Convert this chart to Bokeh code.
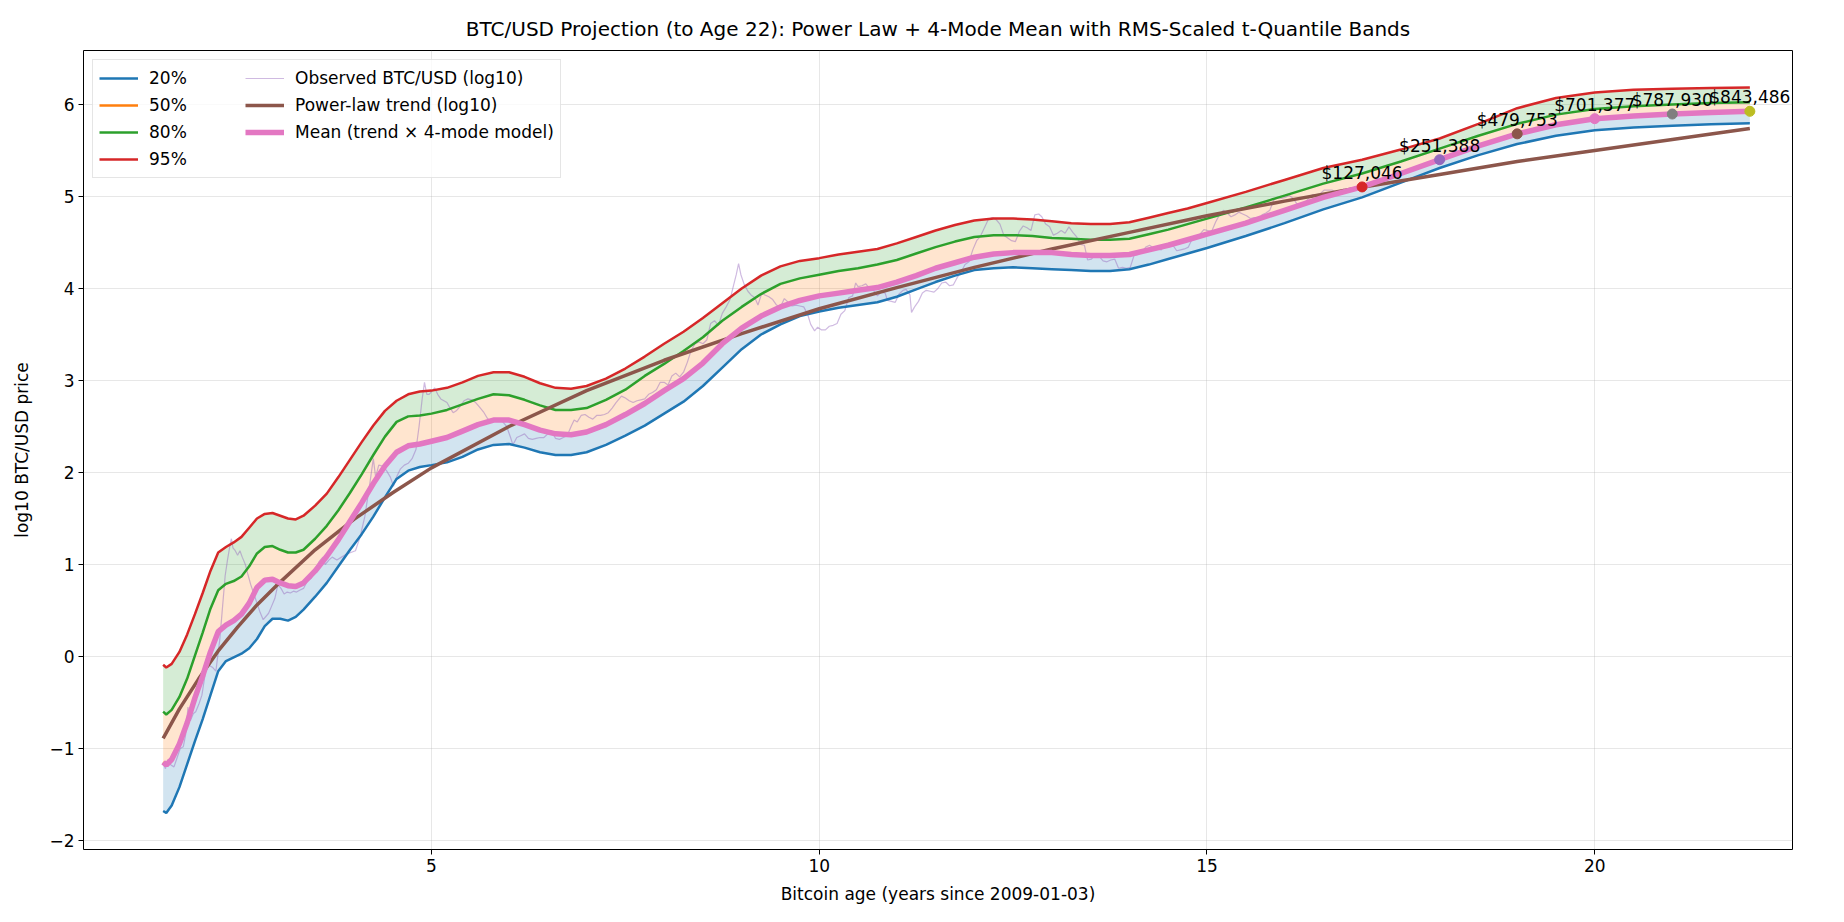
from bokeh.plotting import figure
from bokeh.models import Legend, LegendItem, FixedTicker, Range1d, ColumnDataSource
from bokeh.core.properties import value
from bokeh.embed import file_html
from bokeh.resources import INLINE

# ---------------- data ----------------
ages = [1.54, 1.58, 1.65, 1.75, 1.85, 1.95, 2.05, 2.15, 2.25, 2.35, 2.45, 2.55, 2.65, 2.75, 2.85, 2.95,
        3.05, 3.15, 3.25, 3.35, 3.5, 3.65, 3.8, 3.95, 4.1, 4.25, 4.4, 4.55, 4.7, 4.85, 5.0, 5.2, 5.4,
        5.6, 5.8, 6.0, 6.2, 6.4, 6.6, 6.8, 7.0, 7.25, 7.5, 7.75, 8.0, 8.25, 8.5, 8.75, 9.0, 9.25, 9.5,
        9.75, 10.0, 10.25, 10.5, 10.75, 11.0, 11.25, 11.5, 11.75, 12.0, 12.25, 12.5, 12.75, 13.0, 13.25,
        13.5, 13.75, 14.0, 14.25, 14.5, 14.75, 15.0, 15.5, 16.0, 16.5, 17.0, 17.5, 18.0, 18.5, 19.0,
        19.5, 20.0, 20.5, 21.0, 21.5, 22.0]

mean_log = [-1.15, -1.18, -1.12, -0.95, -0.72, -0.45, -0.21, 0.05, 0.27, 0.34, 0.39, 0.46, 0.58, 0.75, 0.83, 0.84,
            0.80, 0.77, 0.76, 0.80, 0.93, 1.09, 1.27, 1.47, 1.67, 1.88, 2.07, 2.22, 2.29, 2.31, 2.34, 2.38, 2.45,
            2.52, 2.57, 2.57, 2.52, 2.46, 2.42, 2.41, 2.44, 2.52, 2.63, 2.75, 2.89, 3.02, 3.19, 3.40, 3.57, 3.70, 3.80,
            3.87, 3.92, 3.95, 3.98, 4.01, 4.07, 4.14, 4.22, 4.28, 4.34, 4.375, 4.39, 4.39, 4.39, 4.37,
            4.36, 4.36, 4.37, 4.42, 4.47, 4.53, 4.59, 4.71, 4.85, 4.99, 5.105, 5.25, 5.40, 5.55, 5.68,
            5.78, 5.846, 5.875, 5.8965, 5.913, 5.926]

q20 = [-1.68, -1.70, -1.62, -1.42, -1.17, -0.92, -0.68, -0.42, -0.16, -0.05, -0.01, 0.03, 0.09, 0.19, 0.33, 0.41,
       0.41, 0.39, 0.43, 0.51, 0.65, 0.80, 0.98, 1.16, 1.33, 1.52, 1.73, 1.93, 2.02, 2.06, 2.08, 2.11, 2.17,
       2.25, 2.30, 2.31, 2.27, 2.22, 2.19, 2.19, 2.22, 2.30, 2.40, 2.51, 2.64, 2.77, 2.94, 3.14, 3.34, 3.50, 3.61,
       3.70, 3.75, 3.79, 3.82, 3.85, 3.91, 3.99, 4.07, 4.14, 4.20, 4.22, 4.23, 4.22, 4.21, 4.20,
       4.19, 4.19, 4.21, 4.26, 4.32, 4.38, 4.44, 4.57, 4.71, 4.86, 4.99, 5.15, 5.31, 5.45, 5.57,
       5.66, 5.72, 5.75, 5.77, 5.785, 5.795]

q50 = list(mean_log)

q80 = [-0.60, -0.63, -0.58, -0.44, -0.24, 0.01, 0.26, 0.52, 0.72, 0.79, 0.82, 0.87, 0.98, 1.12, 1.19, 1.20,
       1.16, 1.13, 1.13, 1.16, 1.28, 1.42, 1.59, 1.78, 1.98, 2.19, 2.39, 2.55, 2.61, 2.62, 2.64, 2.68, 2.74,
       2.80, 2.85, 2.84, 2.79, 2.73, 2.68, 2.68, 2.70, 2.79, 2.90, 3.05, 3.18, 3.32, 3.47, 3.65, 3.80, 3.94, 4.05,
       4.11, 4.15, 4.19, 4.22, 4.26, 4.31, 4.38, 4.45, 4.51, 4.56, 4.58, 4.58, 4.57, 4.55, 4.54,
       4.53, 4.53, 4.54, 4.59, 4.64, 4.70, 4.76, 4.88, 5.01, 5.14, 5.25, 5.38, 5.52, 5.66, 5.79,
       5.89, 5.95, 5.98, 6.00, 6.015, 6.025]

q95 = [-0.09, -0.12, -0.08, 0.05, 0.24, 0.46, 0.69, 0.93, 1.13, 1.19, 1.24, 1.30, 1.40, 1.50, 1.55, 1.56,
       1.53, 1.50, 1.49, 1.53, 1.64, 1.77, 1.95, 2.14, 2.33, 2.51, 2.67, 2.78, 2.85, 2.88, 2.89, 2.92, 2.98,
       3.05, 3.09, 3.09, 3.04, 2.97, 2.92, 2.91, 2.94, 3.02, 3.13, 3.26, 3.40, 3.53, 3.68, 3.84, 4.00, 4.14, 4.24,
       4.30, 4.33, 4.37, 4.40, 4.43, 4.49, 4.56, 4.63, 4.69, 4.74, 4.76, 4.76, 4.75, 4.73, 4.71,
       4.70, 4.70, 4.72, 4.77, 4.82, 4.87, 4.93, 5.05, 5.18, 5.31, 5.40, 5.51, 5.63, 5.79, 5.96,
       6.07, 6.13, 6.16, 6.17, 6.18, 6.185]

trend_ages = [1.54, 1.75, 2.0, 2.25, 2.5, 2.75, 3.0, 3.5, 4.0, 4.5, 5.0, 6.0, 7.0, 8.0, 9.0, 10.0, 11.0,
              12.0, 13.0, 14.0, 15.0, 16.0, 17.0, 18.0, 19.0, 20.0, 21.0, 22.0]
trend_log = [-0.89, -0.57, -0.24, 0.06, 0.32, 0.56, 0.77, 1.16, 1.49, 1.78, 2.05, 2.50, 2.89, 3.22, 3.51, 3.78,
             4.01, 4.23, 4.43, 4.61, 4.79, 4.95, 5.10, 5.24, 5.38, 5.50, 5.62, 5.74]

obs_ages = [1.54, 1.57, 1.60, 1.64, 1.68, 1.72, 1.76, 1.80, 1.83, 1.86, 1.89, 1.93, 1.96, 2.00, 2.04, 2.08,
            2.10, 2.14, 2.18, 2.22, 2.27, 2.30, 2.34, 2.37, 2.40, 2.42, 2.44, 2.47, 2.50, 2.53, 2.56, 2.60,
            2.63, 2.67, 2.71, 2.75, 2.79, 2.83, 2.87, 2.90, 2.94, 2.98, 3.02, 3.06, 3.10, 3.14, 3.18, 3.22,
            3.26, 3.30, 3.35, 3.40, 3.45, 3.50, 3.55, 3.60, 3.63, 3.68, 3.72, 3.78, 3.84, 3.90, 3.96, 4.02,
            4.08, 4.14, 4.20, 4.25, 4.28, 4.32, 4.37, 4.42, 4.47, 4.51, 4.55, 4.60, 4.65, 4.70, 4.75, 4.80,
            4.84, 4.88, 4.91, 4.94, 4.97, 5.00, 5.04, 5.08, 5.12, 5.16, 5.20, 5.24, 5.28, 5.32, 5.37, 5.42,
            5.47, 5.52, 5.57, 5.62, 5.67, 5.72, 5.77, 5.82, 5.87, 5.92, 5.97, 6.02, 6.05, 6.10, 6.15, 6.20,
            6.25, 6.30, 6.35, 6.40, 6.45, 6.50, 6.55, 6.60, 6.65, 6.70, 6.75, 6.80, 6.84, 6.88, 6.93, 6.98,
            7.03, 7.08, 7.13, 7.18, 7.23, 7.28, 7.33, 7.38, 7.45, 7.50, 7.55, 7.60, 7.65, 7.70, 7.75, 7.80,
            7.85, 7.90, 7.95, 8.00, 8.05, 8.10, 8.15, 8.20, 8.25, 8.30, 8.35, 8.40, 8.45, 8.50, 8.55, 8.60,
            8.65, 8.70, 8.75, 8.80, 8.85, 8.90, 8.93, 8.96, 8.99, 9.03, 9.08, 9.12, 9.17, 9.21, 9.26, 9.30,
            9.35, 9.40, 9.45, 9.50, 9.55, 9.60, 9.65, 9.70, 9.75, 9.80, 9.85, 9.89, 9.94, 9.98, 10.03, 10.08,
            10.13, 10.18, 10.23, 10.28, 10.33, 10.38, 10.43, 10.47, 10.50, 10.55, 10.60, 10.65, 10.70, 10.75,
            10.80, 10.85, 10.88, 10.93, 10.98, 11.03, 11.08, 11.12, 11.17, 11.19, 11.23, 11.28, 11.33, 11.38,
            11.43, 11.48, 11.53, 11.58, 11.63, 11.68, 11.73, 11.78, 11.83, 11.88, 11.93, 11.98, 12.03, 12.08,
            12.13, 12.18, 12.23, 12.28, 12.33, 12.38, 12.43, 12.48, 12.53, 12.58, 12.63, 12.68, 12.73, 12.78,
            12.83, 12.87, 12.92, 12.97, 13.02, 13.07, 13.12, 13.17, 13.22, 13.27, 13.32, 13.37, 13.42, 13.46,
            13.51, 13.56, 13.61, 13.66, 13.71, 13.76, 13.81, 13.86, 13.91, 13.96, 14.01, 14.06, 14.11, 14.16,
            14.21, 14.26, 14.31, 14.36, 14.41, 14.46, 14.51, 14.56, 14.61, 14.66, 14.71, 14.76, 14.81, 14.86,
            14.91, 14.96, 15.01, 15.06, 15.11, 15.16, 15.21, 15.26, 15.31, 15.36, 15.41, 15.46, 15.51, 15.56,
            15.61, 15.66, 15.71, 15.76, 15.81, 15.86, 15.91, 15.96, 16.01, 16.06, 16.11, 16.16, 16.21, 16.26,
            16.31, 16.36, 16.41, 16.46, 16.51, 16.56, 16.61, 16.66, 16.71, 16.76, 16.79]
obs_log = [-1.15, -1.22, -1.12, -1.18, -1.20, -1.10, -1.00, -0.98, -0.85, -0.55, -0.70, -0.62, -0.60, -0.52, -0.42, -0.20,
           -0.02, -0.10, -0.12, -0.16, 0.18, 0.48, 0.88, 1.05, 1.20, 1.28, 1.18, 1.15, 1.10, 1.15, 1.08, 1.00,
           0.90, 0.78, 0.68, 0.58, 0.48, 0.40, 0.44, 0.47, 0.55, 0.63, 0.78, 0.74, 0.68, 0.70, 0.69, 0.71,
           0.70, 0.72, 0.74, 0.82, 0.85, 0.94, 1.03, 1.08, 1.00, 1.05, 1.08, 1.05, 1.08, 1.11, 1.13, 1.15,
           1.30, 1.52, 1.85, 2.15, 1.95, 2.08, 2.07, 2.02, 1.95, 1.85, 1.95, 2.04, 2.08, 2.10, 2.15, 2.25,
           2.50, 2.80, 2.98, 2.85, 2.85, 2.88, 2.92, 2.85, 2.80, 2.78, 2.76, 2.70, 2.65, 2.67, 2.72, 2.78,
           2.80, 2.79, 2.76, 2.71, 2.66, 2.59, 2.55, 2.58, 2.57, 2.55, 2.50, 2.38, 2.30, 2.38, 2.40, 2.42,
           2.37, 2.36, 2.37, 2.38, 2.38, 2.42, 2.45, 2.37, 2.36, 2.38, 2.40, 2.50, 2.57, 2.55, 2.62, 2.63,
           2.60, 2.58, 2.62, 2.62, 2.63, 2.65, 2.70, 2.76, 2.83, 2.81, 2.78, 2.76, 2.78, 2.79, 2.80, 2.85,
           2.87, 2.90, 2.98, 2.98, 2.95, 3.05, 3.08, 3.04, 3.09, 3.20, 3.33, 3.40, 3.42, 3.40, 3.44, 3.62,
           3.65, 3.60, 3.73, 3.80, 3.88, 4.05, 4.15, 4.27, 4.15, 4.05, 3.97, 3.93, 3.90, 3.82, 3.95, 3.93,
           3.91, 3.88, 3.82, 3.80, 3.89, 3.85, 3.81, 3.82, 3.81, 3.80, 3.72, 3.61, 3.54, 3.58, 3.55, 3.55,
           3.59, 3.60, 3.62, 3.72, 3.76, 3.90, 3.92, 4.06, 4.02, 4.03, 4.05, 4.00, 3.98, 3.92,
           3.96, 3.95, 3.87, 3.86, 3.85, 3.94, 3.98, 3.99, 3.93, 3.74, 3.80, 3.86, 3.95, 3.98,
           3.97, 3.96, 4.00, 4.06, 4.07, 4.03, 4.04, 4.12, 4.18, 4.26, 4.29, 4.42, 4.52, 4.57,
           4.66, 4.75, 4.77, 4.75, 4.70, 4.58, 4.55, 4.52, 4.51, 4.62, 4.68, 4.66, 4.63, 4.80,
           4.81, 4.78, 4.70, 4.67, 4.58, 4.60, 4.63, 4.60, 4.67, 4.61, 4.56, 4.48, 4.47, 4.31,
           4.32, 4.37, 4.35, 4.30, 4.29, 4.31, 4.32, 4.22, 4.23, 4.22, 4.23, 4.36, 4.37, 4.39,
           4.45, 4.47, 4.44, 4.43, 4.42, 4.48, 4.48, 4.47, 4.41, 4.42, 4.43, 4.45, 4.54, 4.57,
           4.59, 4.64, 4.63, 4.62, 4.72, 4.80, 4.85, 4.82, 4.78, 4.80, 4.83, 4.81, 4.79, 4.76,
           4.77, 4.75, 4.80, 4.82, 4.85, 4.96, 4.99, 4.98, 4.99, 5.01, 4.98, 4.92, 4.92, 4.93,
           4.98, 5.02, 5.02, 5.03, 5.07, 5.07, 5.07, 5.05, 5.06, 5.08, 5.05]

dot_ages = [17, 18, 19, 20, 21, 22]
dot_log = [5.104, 5.400, 5.681, 5.846, 5.8965, 5.926]
dot_labels = ["$127,046", "$251,388", "$479,753", "$701,377", "$787,930", "$843,486"]
dot_colors = ["#d62728", "#9467bd", "#8c564b", "#e377c2", "#7f7f7f", "#bcbd22"]

x_ticks = [5, 10, 15, 20]
y_ticks = [-2, -1, 0, 1, 2, 3, 4, 5, 6]

FONT = "DejaVu Sans"
FS = "17px"

# ---------------- figure ----------------
p = figure(width=1828, height=906, output_backend="svg", toolbar_location=None,
           x_range=Range1d(0.513, 22.55), y_range=Range1d(-2.098, 6.587),
           title="BTC/USD Projection (to Age 22): Power Law + 4-Mode Mean with RMS-Scaled t-Quantile Bands")
p.min_border_left = 83
p.min_border_right = 36
p.min_border_top = 50
p.min_border_bottom = 57

p.title.align = "center"
p.title.text_font = FONT
p.title.text_font_size = "20px"
p.title.text_font_style = "normal"
p.title.text_color = "black"
p.title.standoff = 20

p.outline_line_color = "black"
p.outline_line_width = 1
p.background_fill_color = "white"
p.border_fill_color = "white"

p.xaxis.ticker = FixedTicker(ticks=x_ticks)
p.yaxis.ticker = FixedTicker(ticks=y_ticks)
p.yaxis.major_label_overrides = {t: ("\u2212" + str(-t)) for t in y_ticks if t < 0}
for ax in (p.xaxis, p.yaxis):
    ax.axis_line_color = None
    ax.major_tick_in = 0
    ax.major_tick_out = 5
    ax.major_tick_line_color = "black"
    ax.minor_tick_line_color = None
    ax.major_label_text_font = FONT
    ax.major_label_text_font_size = FS
    ax.major_label_text_color = "black"
    ax.axis_label_text_font = FONT
    ax.axis_label_text_font_size = FS
    ax.axis_label_text_font_style = "normal"
    ax.axis_label_text_color = "black"
    ax.major_label_standoff = 4
p.xaxis.axis_label = "Bitcoin age (years since 2009-01-03)"
p.yaxis.axis_label = "log10 BTC/USD price"
p.xaxis.axis_label_standoff = 9
p.yaxis.axis_label_standoff = 14

p.grid.grid_line_color = "#b0b0b0"
p.grid.grid_line_alpha = 0.3
p.grid.grid_line_width = 1

# fills
p.varea(x=ages, y1=q20, y2=q50, fill_color="#1f77b4", fill_alpha=0.2)
p.varea(x=ages, y1=q50, y2=q80, fill_color="#ff7f0e", fill_alpha=0.2)
p.varea(x=ages, y1=q80, y2=q95, fill_color="#2ca02c", fill_alpha=0.2)

r_obs = p.line(obs_ages, obs_log, line_color="#9467bd", line_alpha=0.45, line_width=1.2)
r20 = p.line(ages, q20, line_color="#1f77b4", line_width=2.5)
r50 = p.line(ages, q50, line_color="#ff7f0e", line_width=2.5)
r80 = p.line(ages, q80, line_color="#2ca02c", line_width=2.5)
r95 = p.line(ages, q95, line_color="#d62728", line_width=2.5)
r_tr = p.line(trend_ages, trend_log, line_color="#8c564b", line_width=3.5)
r_mean = p.line(ages, mean_log, line_color="#e377c2", line_width=5.5)

src = ColumnDataSource(dict(x=dot_ages, y=dot_log, t=dot_labels, c=dot_colors))
p.scatter("x", "y", source=src, size=10, fill_color="c", line_color="c")
p.text("x", "y", text="t", source=src, text_align="center", text_baseline="bottom",
       y_offset=-4, text_font=value(FONT), text_font_size=FS, text_color="black")

legend = Legend(items=[
    LegendItem(label="20%", renderers=[r20]),
    LegendItem(label="50%", renderers=[r50]),
    LegendItem(label="80%", renderers=[r80]),
    LegendItem(label="95%", renderers=[r95]),
    LegendItem(label="Observed BTC/USD (log10)", renderers=[r_obs]),
    LegendItem(label="Power-law trend (log10)", renderers=[r_tr]),
    LegendItem(label="Mean (trend \u00d7 4-mode model)", renderers=[r_mean]),
], location="top_left", nrows=4)
legend.label_text_font = FONT
legend.label_text_font_size = FS
legend.label_text_color = "black"
legend.glyph_width = 39
legend.glyph_height = 24
legend.label_height = 24
legend.label_width = 93
legend.label_standoff = 11
legend.spacing = 3
legend.padding = 6
legend.margin = 9
legend.border_line_color = "#cccccc"
legend.border_line_width = 1
legend.background_fill_alpha = 0.8
p.add_layout(legend)

open("out.html", "w").write(file_html(p, INLINE))
